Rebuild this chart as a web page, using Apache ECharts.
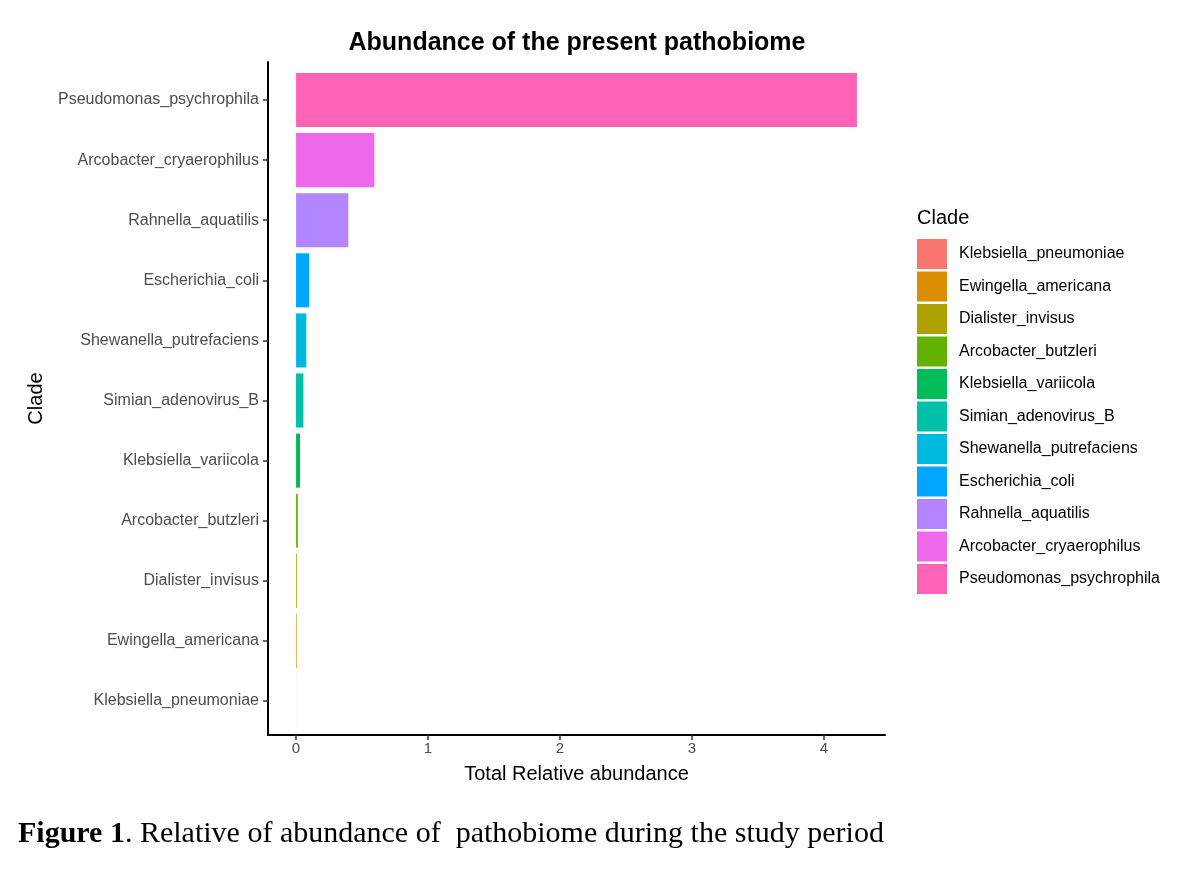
<!DOCTYPE html>
<html>
<head>
<meta charset="utf-8">
<script src="https://cdn.jsdelivr.net/npm/echarts@6/dist/echarts.min.js"></script>
<style>
  html, body { margin: 0; padding: 0; background: #fff; }
  #chart { width: 1200px; height: 872px; }
</style>
</head>
<body>
<div id="chart"></div>
<script>
// clades, bottom to top (also legend order)
const clades = [
  'Klebsiella_pneumoniae',
  'Ewingella_americana',
  'Dialister_invisus',
  'Arcobacter_butzleri',
  'Klebsiella_variicola',
  'Simian_adenovirus_B',
  'Shewanella_putrefaciens',
  'Escherichia_coli',
  'Rahnella_aquatilis',
  'Arcobacter_cryaerophilus',
  'Pseudomonas_psychrophila'
];
const abundance = [0.0005, 0.005, 0.006, 0.013, 0.03, 0.056, 0.078, 0.10, 0.396, 0.593, 4.25];
const cladeColors = [
  '#F8766D', '#DB8E00', '#AEA200', '#64B200', '#00BD5C', '#00C1A7',
  '#00BADE', '#00A6FF', '#B385FF', '#EF67EB', '#FF63B6'
];
const xTicks = [0, 1, 2, 3, 4];

const font = 'Liberation Sans';
const xMin = -0.2125, xMax = 4.4625;

const series = clades.map((name, i) => ({
  name,
  type: 'bar',
  stack: 'clade',
  xAxisIndex: 1,
  yAxisIndex: 1,
  barWidth: '90%',
  itemStyle: { color: cladeColors[i] },
  emphasis: { disabled: true },
  data: clades.map((_, j) => (j === i ? abundance[i] : '-'))
}));

const chart = echarts.init(document.getElementById('chart'), null, { renderer: 'canvas' });

chart.setOption({
  backgroundColor: '#fff',
  animation: false,
  textStyle: { fontFamily: font },
  title: [
    {
      text: 'Abundance of the present pathobiome',
      left: 577, top: 31, textAlign: 'center', padding: 0,
      textStyle: { fontFamily: font, fontSize: 25, fontWeight: 'bold', color: '#000' }
    },
    {
      text: 'Clade',
      left: 917, top: 208, padding: 0,
      textStyle: { fontFamily: font, fontSize: 20, fontWeight: 'normal', color: '#000' }
    },
    {
      text: '{b|Figure 1}{r|. Relative of abundance of  pathobiome during the study period}',
      left: 18, top: 819, padding: 0,
      textStyle: {
        fontWeight: 'normal',
        rich: {
          b: { fontFamily: 'Liberation Serif', fontSize: 30, fontWeight: 'bold', color: '#000' },
          r: { fontFamily: 'Liberation Serif', fontSize: 30, fontWeight: 'normal', color: '#000' }
        }
      }
    }
  ],
  legend: {
    orient: 'vertical',
    left: 917, top: 239, padding: 0,
    icon: 'rect',
    itemWidth: 30, itemHeight: 30, itemGap: 2.5,
    selectedMode: false,
    data: clades,
    textStyle: { fontFamily: font, fontSize: 16, color: '#000', padding: [0, 0, 0, 7] }
  },
  grid: [
    { left: 268, right: 315, top: 62, bottom: 137 },
    { left: 268, right: 315, top: 70, bottom: 141 }
  ],
  xAxis: [
    {
      type: 'value', gridIndex: 0, min: xMin, max: xMax,
      name: 'Total Relative abundance', nameLocation: 'middle', nameGap: 29,
      nameTextStyle: { fontFamily: font, fontSize: 20, color: '#000' },
      axisLine: { show: true, onZero: false, lineStyle: { color: '#000', width: 2 } },
      axisTick: { show: true, length: 5, customValues: xTicks, lineStyle: { color: '#333', width: 1.5 } },
      axisLabel: { customValues: xTicks, fontFamily: font, fontSize: 15, color: '#4D4D4D', margin: 6 },
      splitLine: { show: false }
    },
    {
      type: 'value', gridIndex: 1, min: xMin, max: xMax, show: false
    }
  ],
  yAxis: [
    {
      type: 'value', gridIndex: 0, min: 0, max: 1,
      name: 'Clade', nameLocation: 'middle', nameGap: 222, nameRotate: 90,
      nameTextStyle: { fontFamily: font, fontSize: 20, color: '#000' },
      axisLine: { show: true, onZero: false, lineStyle: { color: '#000', width: 2 } },
      axisTick: { show: false },
      axisLabel: { show: false },
      splitLine: { show: false }
    },
    {
      type: 'category', gridIndex: 1, data: clades,
      axisLine: { show: false, onZero: false },
      axisTick: { show: true, alignWithLabel: true, length: 5, lineStyle: { color: '#333', width: 1.5 } },
      axisLabel: { fontFamily: font, fontSize: 16, color: '#4D4D4D', margin: 9 },
      splitLine: { show: false }
    }
  ],
  series
});

window.addEventListener('resize', () => chart.resize());
</script>
</body>
</html>
